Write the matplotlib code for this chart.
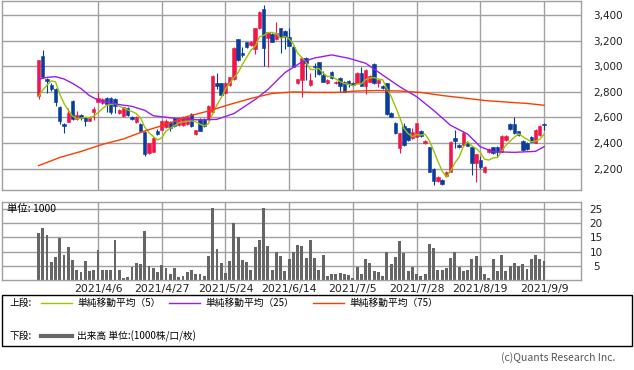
import numpy as np
import pandas as pd
import matplotlib
matplotlib.use('Agg')
import matplotlib.pyplot as plt
from matplotlib.lines import Line2D
from matplotlib.patches import Rectangle

plt.rcParams['font.family'] = ['DejaVu Sans', 'Noto Sans CJK JP']

# daily candles (yen), one per trading day 2021/3/17 - 2021/9/9
opens = [2770, 3080, 2900, 2853, 2822, 2684, 2550, 2567, 2728, 2586,
         2619, 2600, 2575, 2645, 2723, 2715, 2754, 2754, 2745, 2637,
         2611, 2676, 2606, 2567, 2548, 2489, 2324, 2332, 2494, 2502,
         2527, 2567, 2593, 2541, 2541, 2546, 2627, 2471, 2588, 2588,
         2588, 2640, 2871, 2866, 2788, 2853, 2898, 3210, 3100, 3187,
         3166, 3132, 3296, 3444, 3218, 3252, 3210, 3296, 3277, 3230,
         3152, 2866, 2892, 3062, 2853, 3000, 3030, 2931, 2866, 2958,
         2866, 2906, 2880, 2885, 2870, 2871, 2944, 2845, 2880, 3017,
         2866, 2845, 2866, 2637, 2560, 2359, 2535, 2515, 2437, 2450,
         2496, 2403, 2366, 2197, 2100, 2112, 2143, 2176, 2440, 2385,
         2385, 2400, 2366, 2241, 2268, 2171, 2330, 2366, 2370, 2332,
         2420, 2548, 2548, 2490, 2418, 2398, 2450, 2403, 2463, 2545]
highs = [3049, 3127, 2910, 2868, 2830, 2690, 2556, 2670, 2735, 2650,
         2630, 2606, 2610, 2680, 2797, 2752, 2762, 2760, 2750, 2665,
         2685, 2680, 2612, 2610, 2560, 2492, 2400, 2445, 2510, 2580,
         2585, 2575, 2600, 2600, 2612, 2606, 2632, 2505, 2594, 2594,
         2695, 2930, 2950, 2872, 2877, 2918, 3150, 3215, 3150, 3192,
         3198, 3300, 3430, 3475, 3270, 3258, 3348, 3300, 3282, 3296,
         3158, 2902, 3066, 3070, 2950, 3022, 3036, 2960, 2897, 2964,
         2885, 2912, 2886, 2892, 2876, 2955, 2990, 2975, 2935, 3022,
         2897, 2850, 2870, 2642, 2566, 2480, 2560, 2520, 2520, 2560,
         2502, 2424, 2372, 2202, 2142, 2118, 2180, 2415, 2502, 2392,
         2490, 2405, 2372, 2318, 2300, 2218, 2360, 2372, 2376, 2460,
         2460, 2554, 2606, 2496, 2424, 2404, 2456, 2508, 2538, 2555]
lows = [2746, 2905, 2790, 2810, 2690, 2548, 2476, 2562, 2578, 2578,
        2580, 2530, 2570, 2580, 2718, 2708, 2640, 2630, 2632, 2630,
        2605, 2612, 2580, 2554, 2490, 2300, 2318, 2328, 2460, 2498,
        2520, 2490, 2525, 2535, 2535, 2540, 2525, 2465, 2490, 2525,
        2582, 2635, 2820, 2772, 2782, 2848, 2892, 3040, 3070, 3140,
        3160, 3095, 3290, 3004, 2996, 3185, 3205, 3100, 3132, 3155,
        2990, 2860, 2762, 2892, 2848, 2918, 2934, 2875, 2858, 2900,
        2860, 2800, 2795, 2840, 2845, 2865, 2842, 2780, 2875, 2860,
        2840, 2820, 2622, 2600, 2470, 2320, 2380, 2418, 2432, 2445,
        2450, 2390, 2170, 2075, 2095, 2072, 2138, 2170, 2360, 2362,
        2380, 2374, 2150, 2098, 2195, 2166, 2320, 2314, 2290, 2326,
        2414, 2504, 2470, 2457, 2340, 2348, 2404, 2398, 2458, 2500]
closes = [3049, 2913, 2884, 2820, 2723, 2575, 2535, 2633, 2588, 2619,
          2592, 2575, 2600, 2665, 2750, 2745, 2705, 2640, 2690, 2658,
          2679, 2619, 2585, 2606, 2497, 2314, 2398, 2442, 2471, 2575,
          2575, 2515, 2533, 2593, 2606, 2600, 2533, 2502, 2497, 2533,
          2689, 2924, 2845, 2778, 2871, 2913, 3145, 3049, 3088, 3152,
          3192, 3296, 3421, 3140, 3265, 3192, 3257, 3226, 3226, 3160,
          2996, 2897, 3062, 3027, 2892, 2990, 2940, 2880, 2892, 2905,
          2880, 2845, 2800, 2858, 2850, 2950, 2848, 2970, 2920, 2866,
          2892, 2827, 2627, 2606, 2476, 2476, 2385, 2424, 2489, 2554,
          2457, 2419, 2176, 2100, 2137, 2080, 2176, 2410, 2418, 2367,
          2480, 2380, 2241, 2315, 2215, 2215, 2350, 2320, 2330, 2455,
          2455, 2510, 2476, 2463, 2346, 2354, 2410, 2502, 2533, 2538]

# volume (1000 shares)
volume = [16.4, 18.5, 16.0, 6.3, 8.0, 14.8, 8.7, 11.5, 7.0, 3.5,
          2.8, 6.6, 3.3, 3.5, 10.5, 3.5, 3.5, 3.5, 14.0, 3.5,
          0.7, 1.0, 4.7, 5.9, 5.6, 17.4, 4.9, 4.2, 2.8, 5.2,
          4.2, 2.1, 4.2, 1.2, 1.4, 2.8, 3.5, 2.1, 2.1, 1.4,
          8.4, 25.5, 10.8, 5.9, 2.4, 6.6, 20.2, 15.0, 7.0, 6.3,
          3.5, 11.5, 14.0, 25.5, 11.9, 3.5, 9.7, 8.4, 3.1, 7.3,
          9.7, 12.2, 11.9, 7.7, 14.0, 7.7, 3.5, 8.7, 1.4, 2.1,
          2.1, 2.4, 2.1, 1.7, 0.7, 4.5, 2.1, 7.3, 5.9, 3.1,
          2.8, 1.4, 9.8, 5.6, 8.0, 13.6, 9.4, 3.1, 4.5, 2.1,
          1.4, 2.1, 12.6, 11.2, 3.5, 3.5, 4.2, 7.7, 9.8, 4.5,
          3.1, 3.5, 7.3, 8.4, 4.9, 2.1, 0.7, 7.3, 3.1, 8.7,
          3.1, 4.9, 5.9, 4.9, 5.6, 3.8, 7.3, 8.7, 7.3, 6.6]

# moving averages
ma5_head = [2762, 2814, 2853, 2885]
ma25_idx = [0, 2, 4, 6, 8, 10, 12, 14, 18, 22, 25, 27, 32, 38, 42, 46, 51, 54,
            58, 62, 65, 69, 73, 77, 81, 85, 89, 93, 97, 101, 104, 107, 112, 117, 119]
ma25 = [2897, 2913, 2918, 2900, 2866, 2825, 2770, 2735, 2705, 2686, 2655, 2613,
        2593, 2580, 2585, 2630, 2740, 2818, 2950, 3033, 3064, 3088, 3062, 3023,
        2931, 2840, 2762, 2655, 2538, 2470, 2371, 2332, 2327, 2335, 2371]
ma75_idx = [0, 5, 10, 15, 20, 25, 30, 35, 40, 45, 50, 55, 60,
            65, 70, 75, 80, 85, 90, 95, 100, 105, 110, 115, 119]
ma75 = [2223, 2287, 2334, 2389, 2432, 2494, 2545, 2607, 2650, 2701, 2748, 2787, 2799,
        2795, 2795, 2806, 2810, 2806, 2795, 2771, 2752, 2732, 2720, 2709, 2695]

tick_pos = [14, 29, 44, 59, 74, 89, 104, 119]
tick_labels = ['2021/4/6', '2021/4/27', '2021/5/24', '2021/6/14',
               '2021/7/5', '2021/7/28', '2021/8/19', '2021/9/9']
price_ticks = [2200, 2400, 2600, 2800, 3000, 3200, 3400]
vol_ticks = [5, 10, 15, 20, 25]

RED = '#f0164a'
BLUE = '#0a3c9c'
GRID = '#a0a0a0'
W, H = 634, 370

fig = plt.figure(figsize=(W / 100, H / 100), dpi=100)
ax = fig.add_axes([2 / W, 1 - 190 / H, 579 / W, 189 / H])
axv = fig.add_axes([2 / W, 1 - 280 / H, 579 / W, 78.3 / H])

o = np.array(opens)
c = np.array(closes)
x = np.arange(len(o))
cols = np.where(c >= o, RED, BLUE)

ax.vlines(x, lows, highs, colors=cols, lw=0.8, zorder=2)
ax.bar(x, np.abs(c - o), bottom=np.minimum(o, c), width=0.8, color=cols,
       edgecolor=cols, linewidth=0.4, zorder=2)

ma5 = pd.Series(closes, dtype=float).rolling(5).mean()
ma5[:4] = ma5_head
ax.plot(x, ma5, color='#99c400', lw=1.0, zorder=3)
ax.plot(ma25_idx, ma25, color='#9a1cf0', lw=1.0, zorder=3)
ax.plot(ma75_idx, ma75, color='#ff3c00', lw=1.0, zorder=3)

axv.bar(x, volume, width=0.68, color='#666666', zorder=2)

for a in (ax, axv):
    a.set_xlim(-8.6, 127.7)
    a.set_xticks(tick_pos)
    a.grid(True, color=GRID, lw=1.0, zorder=0)
    a.set_axisbelow(True)
    for s in a.spines.values():
        s.set_color(GRID)
        s.set_linewidth(1.0)
    a.yaxis.tick_right()
    a.tick_params(length=0, labelsize=7.5, colors='#222222')

ax.set_ylim(2033, 3509)
ax.set_yticks(price_ticks)
ax.set_yticklabels([f'{v:,}' for v in price_ticks])
ax.tick_params(axis='y', pad=9)
ax.set_xticklabels([])

axv.set_ylim(0, 27.6)
axv.set_yticks(vol_ticks)
axv.set_yticklabels([str(v) for v in vol_ticks], ha='center')
axv.tick_params(axis='y', pad=11)
axv.set_xticklabels(tick_labels, fontsize=7.8)
axv.tick_params(axis='x', pad=3)

cjk = ['Noto Sans CJK JP', 'DejaVu Sans']
fig.text(7 / W, 1 - 209 / H, '単位: 1000', family=cjk, fontsize=7.5, va='center')

# legend box
fig.add_artist(Rectangle((2 / W, 1 - 346 / H), 630 / W, 51 / H, transform=fig.transFigure,
                         fill=False, edgecolor='black', lw=1.0))
fig.text(10 / W, 1 - 303 / H, '上段:', family=cjk, fontsize=7, va='center')
fig.text(10 / W, 1 - 336 / H, '下段:', family=cjk, fontsize=7, va='center')
legend_items = [(41, '#99c400', '単純移動平均（5）'),
                (169, '#9a1cf0', '単純移動平均（25）'),
                (313, '#ff3c00', '単純移動平均（75）')]
for x0, col, txt in legend_items:
    fig.add_artist(Line2D([x0 / W, (x0 + 31) / W], [1 - 303 / H] * 2,
                          transform=fig.transFigure, color=col, lw=1.0))
    fig.text((x0 + 36) / W, 1 - 303 / H, txt, family=cjk, fontsize=7, va='center')
fig.add_artist(Line2D([41 / W, 72 / W], [1 - 336 / H] * 2,
                      transform=fig.transFigure, color='#666666', lw=3))
fig.text(77 / W, 1 - 336 / H, '出来高 単位:(1000株/口/枚)', family=cjk, fontsize=7, va='center')

fig.text(615 / W, 1 - 358 / H, '(c)Quants Research Inc.', family=cjk, fontsize=7.5,
         color='#555555', ha='right', va='center')

fig.savefig('out.png', dpi=100)
